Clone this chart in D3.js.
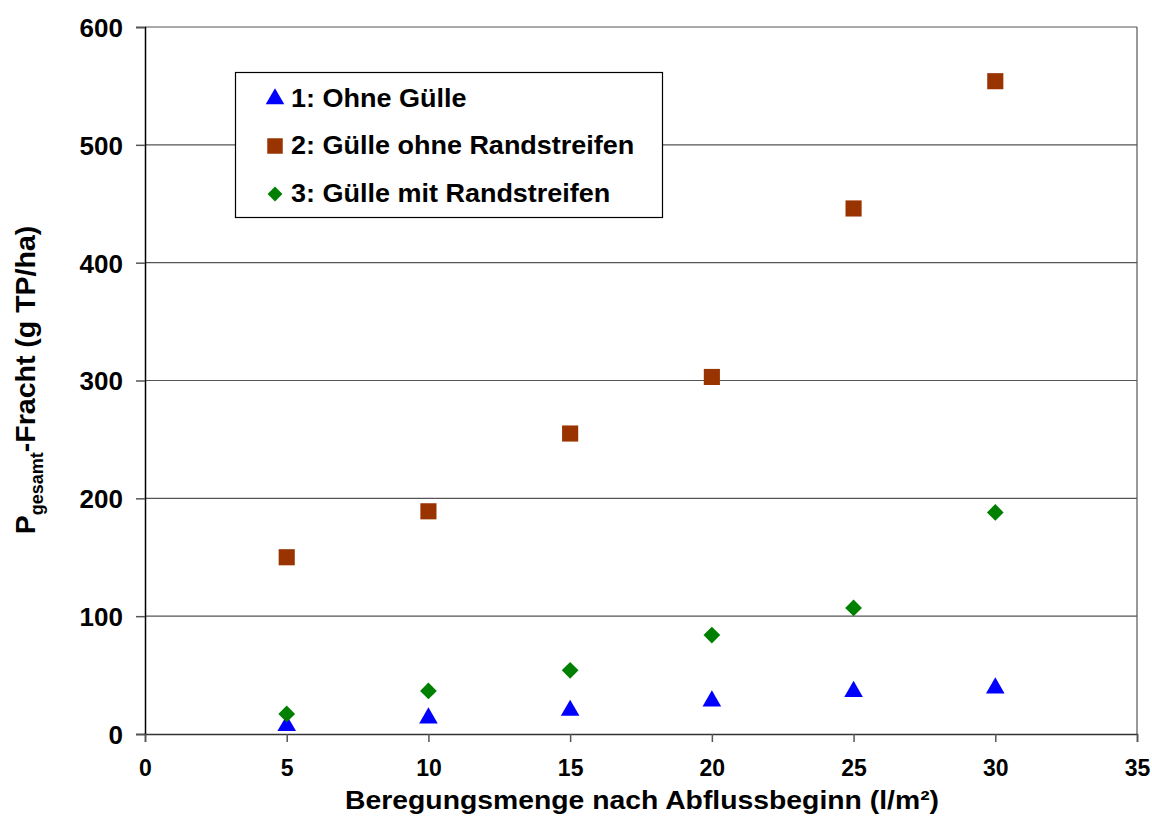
<!DOCTYPE html>
<html><head><meta charset="utf-8">
<script src="https://cdn.jsdelivr.net/npm/d3@7"></script>
<style>body{margin:0;background:#fff}svg{display:block}text{font-family:Arial,"Liberation Sans",sans-serif;font-weight:bold;fill:#000}</style>
</head><body>
<svg id="c" width="1152" height="816"></svg>
<script>
const xValues = [5, 10, 15, 20, 25, 30];
const seriesNames = ["1: Ohne Gülle", "2: Gülle ohne Randstreifen", "3: Gülle mit Randstreifen"];
const ohneGuelle = [7, 13.5, 20, 28, 36, 39];
const guelleOhneRand = [150, 189, 255, 303, 446, 554];
const guelleMitRand = [17, 36.5, 54, 84, 107, 188];
const xTicks = [0, 5, 10, 15, 20, 25, 30, 35];
const yTicks = [0, 100, 200, 300, 400, 500, 600];

const svg = d3.select("#c");
const L = 145, R = 1137, T = 27, B = 734;
const x = d3.scaleLinear().domain([0, 35]).range([L, R]);
const y = d3.scaleLinear().domain([0, 600]).range([B, T]);

// gridlines
svg.append("g").selectAll("line").data(yTicks.filter(d => d > 0)).join("line")
  .attr("x1", L).attr("x2", R).attr("y1", d => y(d)).attr("y2", d => y(d))
  .attr("stroke", "#555").attr("stroke-width", 1.2);
// right border
svg.append("line").attr("x1", R).attr("x2", R).attr("y1", T).attr("y2", B).attr("stroke", "#555").attr("stroke-width", 1.2);

// axes
const yAxis = d3.axisLeft(y).tickValues(yTicks).tickSize(9).tickPadding(13).tickFormat(d3.format("d"));
const gy = svg.append("g").attr("transform", `translate(${L},0)`).call(yAxis);
gy.select(".domain").attr("stroke", "#000").attr("stroke-width", 1.5);
gy.selectAll(".tick line").attr("stroke", "#555").attr("stroke-width", 1.5);
gy.selectAll(".tick text").attr("font-size", 26).attr("font-family", "Arial, 'Liberation Sans', sans-serif").attr("font-weight", "bold").attr("fill", "#000").attr("dy", "0.36em");

const xAxis = d3.axisBottom(x).tickValues(xTicks).tickSize(8).tickPadding(18).tickFormat(d3.format("d"));
const gx = svg.append("g").attr("transform", `translate(0,${B})`).call(xAxis);
gx.select(".domain").attr("stroke", "#333").attr("stroke-width", 1.5);
gx.selectAll(".tick line").attr("stroke", "#555").attr("stroke-width", 1.5);
gx.selectAll(".tick text").attr("font-size", 23).attr("font-family", "Arial, 'Liberation Sans', sans-serif").attr("font-weight", "bold").attr("fill", "#000");

// markers
const tri = d3.symbol().type(d3.symbolTriangle).size(150);
const sq = d3.symbol().type(d3.symbolSquare).size(260);
const dia = d3.symbol().type(d3.symbolSquare).size(140);

svg.append("g").selectAll("path").data(xValues.map((v, i) => [v, ohneGuelle[i]])).join("path")
  .attr("d", tri).attr("fill", "#0000FF")
  .attr("transform", d => `translate(${x(d[0])},${y(d[1])})`);
svg.append("g").selectAll("path").data(xValues.map((v, i) => [v, guelleOhneRand[i]])).join("path")
  .attr("d", sq).attr("fill", "#993300")
  .attr("transform", d => `translate(${x(d[0])},${y(d[1])})`);
svg.append("g").selectAll("path").data(xValues.map((v, i) => [v, guelleMitRand[i]])).join("path")
  .attr("d", dia).attr("fill", "#008000")
  .attr("transform", d => `translate(${x(d[0])},${y(d[1])}) rotate(45)`);

// axis titles
svg.append("text").attr("transform", "translate(642,809) scale(1.09,1)").attr("text-anchor", "middle")
  .attr("font-size", 26).text("Beregungsmenge nach Abflussbeginn (l/m²)");
const yt = svg.append("text").attr("transform", "translate(35,380) rotate(-90)").attr("text-anchor", "middle").attr("font-size", 28.5);
yt.append("tspan").text("P");
yt.append("tspan").attr("font-size", 18).attr("dy", 8).text("gesamt");
yt.append("tspan").attr("dy", -8).text("-Fracht (g TP/ha)");

// legend
const lg = svg.append("g");
lg.append("rect").attr("x", 235.5).attr("y", 72.5).attr("width", 427).attr("height", 145)
  .attr("fill", "#fff").attr("stroke", "#000").attr("stroke-width", 1.2);
const legY = [99, 146, 194];
const legSyms = [[tri, "#0000FF", 0], [d3.symbol().type(d3.symbolSquare).size(240), "#993300", 0], [d3.symbol().type(d3.symbolSquare).size(110), "#008000", 45]];
seriesNames.forEach((n, i) => {
  lg.append("path").attr("d", legSyms[i][0]).attr("fill", legSyms[i][1])
    .attr("transform", `translate(275,${legY[i]}) rotate(${legSyms[i][2]})`);
  lg.append("text").attr("transform", `translate(291,${legY[i] + 8}) scale(1.08,1)`).attr("font-size", 25).text(n);
});
</script>
</body></html>
